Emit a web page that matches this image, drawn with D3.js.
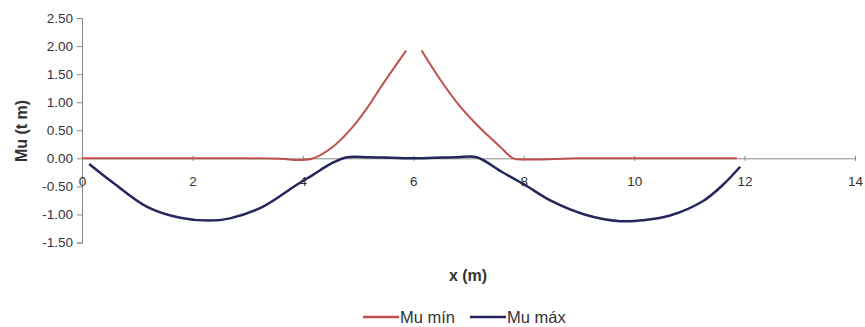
<!DOCTYPE html>
<html>
<head>
<meta charset="utf-8">
<script src="https://cdn.jsdelivr.net/npm/d3@7"></script>
<style>
  body { margin: 0; background: #fff; }
  text { font-family: "Liberation Sans", Arial, sans-serif; fill: #333; }
</style>
</head>
<body>
<script>
// values
const xTicks = [0, 2, 4, 6, 8, 10, 12, 14];
const yTicks = [2.5, 2, 1.5, 1, 0.5, 0, -0.5, -1, -1.5];

// Mu min (null = gap at the support)
const xMin  = [0, 1, 2, 3, 3.6, 3.95, 4.19, 4.55, 4.86, 5.16, 5.46, 5.87, 6.0, 6.15, 6.49, 6.85, 7.21, 7.57, 7.81, 8.1, 9, 10, 11, 11.86];
const muMin = [0, 0, 0, 0, -0.01, -0.03, 0, 0.21, 0.51, 0.89, 1.34, 1.92, null, 1.92, 1.40, 0.92, 0.54, 0.21, 0, -0.02, 0, 0, 0, 0];

// Mu max
const xMax  = [0.13, 0.57, 1.17, 1.78, 2.3, 2.68, 3.28, 3.89, 4.19, 4.5, 4.8, 5.2, 5.6, 6.0, 6.4, 6.8, 7.15, 7.6, 8.0, 8.5, 9.1, 9.75, 10.2, 10.65, 11.25, 11.6, 11.92];
const muMax = [-0.10, -0.44, -0.86, -1.06, -1.11, -1.07, -0.86, -0.47, -0.29, -0.10, 0.02, 0.02, 0.01, 0.0, 0.01, 0.02, 0.02, -0.24, -0.46, -0.76, -1.0, -1.12, -1.10, -1.02, -0.76, -0.48, -0.15];

const seriesNames = ["Mu mín", "Mu máx"];
const seriesColors = ["#c0504d", "#26265e"];

const width = 865, height = 327;
const svg = d3.select("body").append("svg")
  .attr("width", width)
  .attr("height", height);

const x = d3.scaleLinear().domain([0, 14]).range([82, 855]);
const y = d3.scaleLinear().domain([-1.5, 2.5]).range([242.5, 18]);

//---- y axis
const yAxis = svg.append("g")
  .attr("transform", `translate(${x(0)},0)`)
  .call(d3.axisLeft(y).tickValues(yTicks).tickSize(5).tickPadding(4)
    .tickFormat(d => d.toFixed(2)));
yAxis.select(".domain").attr("stroke", "#888");
yAxis.selectAll(".tick line").attr("stroke", "#888");
yAxis.selectAll("text").attr("font-size", 13.5).attr("fill", "#333")
  .style("font-family", "Liberation Sans, Arial, sans-serif");

//---- x axis (crossing ticks on the zero line)
const xAxis = svg.append("g")
  .attr("transform", `translate(0,${y(0)})`)
  .call(d3.axisBottom(x).tickValues(xTicks).tickSize(0).tickPadding(18));
xAxis.select(".domain").attr("stroke", "#888");
xAxis.selectAll(".tick line").remove();
xAxis.selectAll(".tick").append("line")
  .attr("y1", -2.5).attr("y2", 2.5).attr("stroke", "#888");
xAxis.selectAll("text").attr("font-size", 13.5).attr("fill", "#333")
  .style("font-family", "Liberation Sans, Arial, sans-serif");

//---- lines
const line = d3.line()
  .defined(d => d[1] !== null)
  .x(d => x(d[0]))
  .y(d => y(d[1]))
  .curve(d3.curveCatmullRom.alpha(0.5));

svg.append("path")
  .datum(xMin.map((v, i) => [v, muMin[i]]))
  .attr("fill", "none")
  .attr("stroke", seriesColors[0])
  .attr("stroke-width", 2)
  .attr("d", line);

svg.append("path")
  .datum(xMax.map((v, i) => [v, muMax[i]]))
  .attr("fill", "none")
  .attr("stroke", seriesColors[1])
  .attr("stroke-width", 2.5)
  .attr("d", line);

//---- axis titles
svg.append("text")
  .attr("transform", "translate(27,131) rotate(-90)")
  .attr("text-anchor", "middle")
  .attr("font-size", 16)
  .attr("font-weight", "bold")
  .attr("fill", "#222")
  .text("Mu (t m)");

svg.append("text")
  .attr("x", 468).attr("y", 281)
  .attr("text-anchor", "middle")
  .attr("font-size", 16)
  .attr("font-weight", "bold")
  .attr("fill", "#222")
  .text("x (m)");

//---- legend
const legendX = [363, 470];
const legend = svg.selectAll(".legend")
  .data(seriesNames)
  .enter()
  .append("g")
    .attr("transform", (d, i) => `translate(${legendX[i]},317)`);
legend.append("line")
  .attr("x1", 0).attr("x2", 36)
  .attr("stroke", (d, i) => seriesColors[i])
  .attr("stroke-width", 2.5);
legend.append("text")
  .attr("x", 37).attr("y", 5.5)
  .attr("font-size", 16.5)
  .attr("fill", "#222")
  .text(d => d);
</script>
</body>
</html>
